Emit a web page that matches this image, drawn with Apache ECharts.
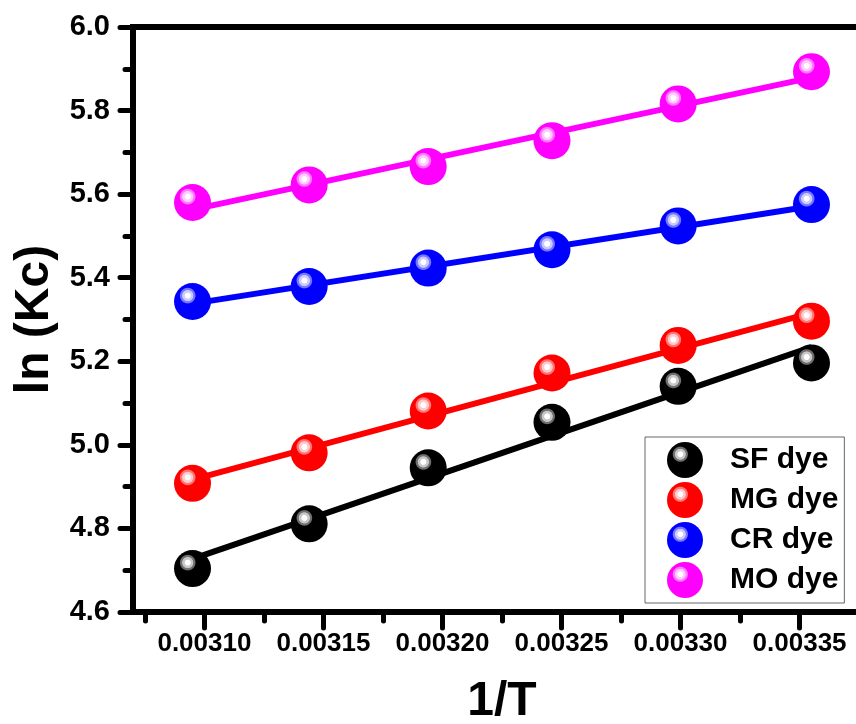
<!DOCTYPE html>
<html>
<head>
<meta charset="utf-8">
<script src="https://cdn.jsdelivr.net/npm/echarts@6/dist/echarts.min.js"></script>
<style>
html,body{margin:0;padding:0;background:#fff;}
#chart{width:856px;height:724px;}
</style>
</head>
<body>
<div id="chart"></div>
<script>
// 1/T values (x)
var invT = [0.003095, 0.003144, 0.003194, 0.003246, 0.003299, 0.003355];
// ln(Kc) values
var sfDye = [4.704, 4.811, 4.945, 5.054, 5.140, 5.196];
var mgDye = [4.908, 4.981, 5.081, 5.172, 5.238, 5.296];
var crDye = [5.343, 5.379, 5.423, 5.467, 5.524, 5.575];
var moDye = [5.580, 5.622, 5.666, 5.728, 5.816, 5.893];
// fitted line end values (at first and last 1/T)
var fitX = [0.003095, 0.003355];
var sfFit = [4.727, 5.234];
var mgFit = [4.917, 5.316];
var crFit = [5.338, 5.571];
var moFit = [5.563, 5.879];
// axis ticks
var xMajorTicks = [0.00310, 0.00315, 0.00320, 0.00325, 0.00330, 0.00335];
var xMinorTicks = [0.003075, 0.003125, 0.003175, 0.003225, 0.003275, 0.003325, 0.003375];
var seriesNames = ['SF dye', 'MG dye', 'CR dye', 'MO dye'];

var FONT = '"Liberation Sans", Arial, sans-serif';

function sphere(base, light, mid) {
  return {
    type: 'radial', x: 0.37, y: 0.34, r: 0.7,
    colorStops: [
      {offset: 0, color: '#ffffff'},
      {offset: 0.1, color: '#ffffff'},
      {offset: 0.13, color: light},
      {offset: 0.2, color: light},
      {offset: 0.23, color: mid},
      {offset: 0.28, color: mid},
      {offset: 0.32, color: base},
      {offset: 1, color: base}
    ]
  };
}
var styles = [
  {line: '#000000', fill: sphere('#000000', '#c8c8c8', '#707070')},
  {line: '#ff0000', fill: sphere('#ff0000', '#ffcaca', '#ff7878')},
  {line: '#0000ff', fill: sphere('#0000ff', '#cacaff', '#7878ff')},
  {line: '#ff00ff', fill: sphere('#ff00ff', '#ffcaff', '#ff78ff')}
];
var values = [sfDye, mgDye, crDye, moDye];
var fits = [sfFit, mgFit, crFit, moFit];

var series = [];
for (var i = 0; i < 4; i++) {
  series.push({
    name: seriesNames[i] + ' fit',
    type: 'line',
    xAxisIndex: 0, yAxisIndex: 0,
    data: fitX.map(function (x, k) { return [x, fits[i][k]]; }),
    showSymbol: false,
    symbol: 'none',
    lineStyle: {color: styles[i].line, width: 6},
    z: 2,
    silent: true,
    animation: false
  });
}
for (var j = 0; j < 4; j++) {
  series.push({
    name: seriesNames[j],
    type: 'scatter',
    xAxisIndex: 0, yAxisIndex: 0,
    data: invT.map(function (x, k) { return [x, values[j][k]]; }),
    symbol: 'circle',
    symbolSize: 37,
    itemStyle: {color: styles[j].fill, opacity: 1},
    z: 3,
    animation: false
  });
}

var chart = echarts.init(document.getElementById('chart'), null, {renderer: 'canvas'});
chart.setOption({
  animation: false,
  backgroundColor: '#ffffff',
  grid: {
    left: 133, top: 27, width: 738, height: 585,
    outerBoundsMode: 'none',
    containLabel: false,
    show: true, borderColor: '#000', borderWidth: 6, backgroundColor: 'transparent'
  },
  legend: {
    data: seriesNames,
    orient: 'vertical',
    left: 645, top: 437,
    padding: [5, 6, 5, 22],
    itemGap: 4,
    itemWidth: 36, itemHeight: 36,
    icon: 'circle',
    borderColor: '#666', borderWidth: 1,
    backgroundColor: '#fff',
    textStyle: {fontFamily: FONT, fontWeight: 'bold', fontSize: 30, color: '#000', padding: [0, 0, 0, 22]}
  },
  xAxis: [{
    type: 'value',
    min: 0.00307, max: 0.00338,
    position: 'bottom',
    name: '1/T',
    nameLocation: 'middle',
    nameGap: 66,
    nameTextStyle: {fontFamily: FONT, fontWeight: 'bold', fontSize: 48, color: '#000'},
    axisLine: {show: true, lineStyle: {color: '#000', width: 6}},
    axisTick: {show: true, inside: false, length: 16, customValues: xMajorTicks, lineStyle: {color: '#000', width: 5, cap: 'round'}},
    axisLabel: {show: true, customValues: xMajorTicks, margin: 19, fontFamily: FONT, fontWeight: 'bold', fontSize: 26, color: '#000',
      formatter: function (v) { return v.toFixed(5); }},
    splitLine: {show: false}
  }, {
    type: 'value',
    min: 0.00307, max: 0.00338,
    position: 'bottom',
    axisLine: {show: false},
    axisTick: {show: true, inside: false, length: 9, customValues: xMinorTicks, lineStyle: {color: '#000', width: 5, cap: 'round'}},
    axisLabel: {show: false},
    splitLine: {show: false}
  }],
  yAxis: [{
    type: 'value',
    min: 4.6, max: 6.0, interval: 0.2,
    name: 'ln (Kc)',
    nameLocation: 'middle',
    nameGap: 73,
    nameRotate: 90,
    nameTextStyle: {fontFamily: FONT, fontWeight: 'bold', fontSize: 48, color: '#000'},
    axisLine: {show: true, lineStyle: {color: '#000', width: 6}},
    axisTick: {show: true, inside: false, length: 13, lineStyle: {color: '#000', width: 5, cap: 'round'}},
    minorTick: {show: true, splitNumber: 2, length: 8, lineStyle: {color: '#000', width: 5, cap: 'round'}},
    axisLabel: {margin: 23, fontFamily: FONT, fontWeight: 'bold', fontSize: 29, color: '#000',
      formatter: function (v) { return v.toFixed(1); }},
    splitLine: {show: false},
    minorSplitLine: {show: false}
  }],
  series: series
});
</script>
</body>
</html>
